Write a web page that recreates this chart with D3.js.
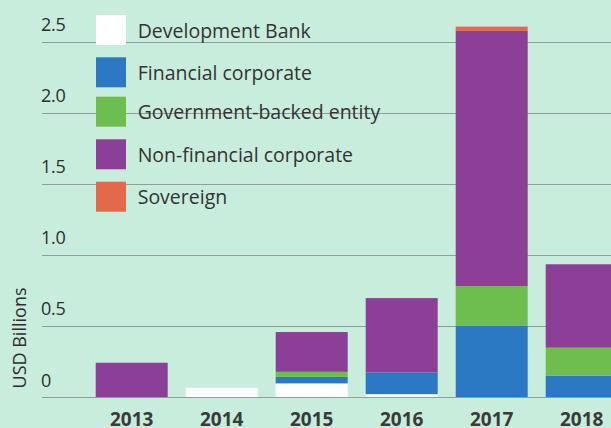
<!DOCTYPE html>
<html>
<head>
<meta charset="utf-8">
<script src="https://cdn.jsdelivr.net/npm/d3@7"></script>
<style>
  html, body { margin: 0; padding: 0; background: #c8eddc; overflow: hidden; }
  svg { display: block; }
</style>
</head>
<body>
<svg id="chart" width="611" height="428"></svg>
<script>
const years = ["2013", "2014", "2015", "2016", "2017", "2018"];
const seriesNames = ["Development Bank", "Financial corporate", "Government-backed entity", "Non-financial corporate", "Sovereign"];
const seriesColors = ["#ffffff", "#2b78c3", "#6dbe4f", "#8c3f96", "#e4694a"];
const developmentBank = [0, 0.065, 0.096, 0.02, 0, 0];
const financialCorporate = [0, 0, 0.046, 0.153, 0.50, 0.15];
const governmentBacked = [0, 0, 0.035, 0, 0.28, 0.197];
const nonFinancialCorporate = [0.241, 0, 0.28, 0.523, 1.796, 0.587];
const sovereign = [0, 0, 0, 0, 0.03, 0];
const yTicks = [0, 0.5, 1.0, 1.5, 2.0, 2.5];
const yTickLabels = ["0", "0.5", "1.0", "1.5", "2.0", "2.5"];
const yTitle = "USD Billions";

const seriesValues = [developmentBank, financialCorporate, governmentBacked, nonFinancialCorporate, sovereign];
const table = years.map((yr, i) => {
  const row = { year: yr };
  seriesNames.forEach((s, j) => row[s] = seriesValues[j][i]);
  return row;
});

const svg = d3.select("#chart");
const W = 611, H = 428;
const font = "'Open Sans', 'Noto Sans', sans-serif";

const x = d3.scaleBand().domain(years).range([86.7, 626.7]).paddingInner(0.2).paddingOuter(0.1);
const y = d3.scaleLinear().domain([0, 2.5]).range([397, 41.7]);

// gridlines
svg.append("g").selectAll("line").data(yTicks).join("line")
  .attr("x1", 42).attr("x2", W)
  .attr("y1", d => Math.round(y(d)) + 0.5).attr("y2", d => Math.round(y(d)) + 0.5)
  .attr("stroke", "#8f9e9a").attr("stroke-width", 1.1);

// tick labels
svg.append("g").selectAll("text").data(yTicks).join("text")
  .attr("x", 41).attr("y", d => y(d) - 10.5)
  .attr("font-family", font).attr("font-size", 18).attr("fill", "#2e2e2e")
  .attr("letter-spacing", -0.3)
  .text((d, i) => yTickLabels[i]);

// y title
svg.append("text")
  .attr("transform", `translate(26,338) rotate(-90)`)
  .attr("text-anchor", "middle")
  .attr("font-family", font).attr("font-size", 18).attr("fill", "#2e2e2e")
  .text(yTitle);

// stacked bars
const stack = d3.stack().keys(seriesNames);
const stacked = stack(table);
const color = d3.scaleOrdinal().domain(seriesNames).range(seriesColors);

svg.append("g").selectAll("g").data(stacked).join("g")
  .attr("fill", d => color(d.key))
  .selectAll("rect").data(d => d).join("rect")
  .attr("x", d => x(d.data.year))
  .attr("width", x.bandwidth())
  .attr("y", d => y(d[1]))
  .attr("height", d => Math.max(0, y(d[0]) - y(d[1])));

// year labels
svg.append("g").selectAll("text").data(years).join("text")
  .attr("x", d => x(d) + x.bandwidth() / 2)
  .attr("y", 426)
  .attr("text-anchor", "middle")
  .attr("font-family", font).attr("font-size", 19).attr("font-weight", "bold").attr("fill", "#3a3a3a")
  .text(d => d);

// legend
const legendY = [15, 57.3, 96.7, 139.3, 181.7];
const lg = svg.append("g").selectAll("g").data(seriesNames).join("g")
  .attr("transform", (d, i) => `translate(96,${legendY[i]})`);
lg.append("rect").attr("width", 30).attr("height", 30).attr("fill", d => color(d));
lg.append("text").attr("x", 41.7).attr("y", 22.5)
  .attr("font-family", font).attr("font-size", 19.5).attr("fill", "#333")
  .text(d => d);
</script>
</body>
</html>
